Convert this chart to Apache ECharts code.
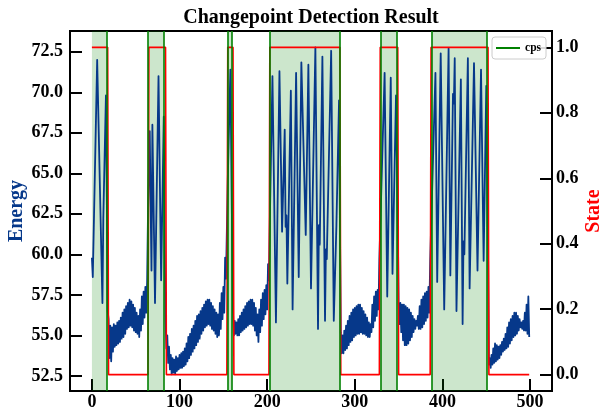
<!DOCTYPE html>
<html>
<head>
<meta charset="utf-8">
<script src="https://cdn.jsdelivr.net/npm/echarts@6/dist/echarts.min.js"></script>
<style>
  html, body { margin: 0; padding: 0; background: #fff; }
  #chart { width: 600px; height: 409px; }
</style>
</head>
<body>
<div id="chart"></div>
<script>
// changepoints (green lines) and shaded segments
const cpsX = [17, 64, 82, 155, 160, 203, 283, 330, 348, 388, 451];
const shadeRanges = [[0, 17], [64, 82], [155, 160], [203, 283], [330, 348], [388, 451]];

// state = 1 inside these index ranges, 0 elsewhere
const stateOn = [[0, 18], [65, 84], [155, 161], [203, 283], [329, 349], [387, 452]];
const lastIndex = 499;

// oscillating parts: [index, energy] at peaks / troughs
const act1 = [[0, 59.8], [1, 58.6], [6, 72.0], [12, 57.0], [13, 62.2], [16, 69.8], [17, 63.5], [18, 56.5]];
const act2 = [[64, 62.5], [66, 67.6], [67, 63.0], [68, 59.0], [69, 68.0], [72, 57.0], [76, 71.0], [79, 58.4], [82, 68.5], [83, 61.0]];
const act3 = [[153, 58.5], [155, 64.5], [158, 71.4], [160, 61.0]];
const act4 = [[203, 62.0], [206, 71.0], [210, 55.8], [214, 71.3], [217, 61.4], [220, 67.7], [221, 61.7], [222, 62.4],
  [223, 58.2], [227, 70.1], [229, 56.6], [233, 71.2], [236, 58.6], [239, 71.85], [244, 61.2], [247, 71.7],
  [250, 57.9], [255, 72.77], [258, 55.4], [259, 61.8], [260, 60.6], [263, 72.2], [266, 55.9], [267, 60.3],
  [268, 59.7], [273, 72.56], [276, 55.9], [279, 61.8], [282, 69.5], [283, 62.0]];
const act5 = [[334, 71.2], [337, 57.4], [341, 70.9], [343, 58.8], [347, 69.8], [349, 62.0]];
const act6 = [[388, 63.5], [392, 71.2], [394, 58.3], [398, 72.4], [402, 56.6], [407, 72.7], [409, 58.7], [412, 69.9],
  [413, 69.3], [414, 72.1], [416, 56.5], [421, 70.8], [423, 55.7], [424, 60.8], [425, 60.0], [429, 72.1],
  [431, 57.9], [436, 71.8], [440, 59.0], [444, 71.4], [447, 59.6], [450, 70.4], [452, 60.5]];

// calm parts: one value per index, starting at quietStarts[k]
const quietStarts = [19, 84, 161, 284, 350, 453];
const quiet1 = [56.0, 53.6, 55.6, 53.4, 55.5, 54.0, 55.7, 54.3, 55.6, 54.4, 55.8, 54.5, 55.9, 54.6, 56.1, 54.8,
  56.4, 54.9, 56.6, 55.1, 56.8, 55.4, 57.0, 55.5, 57.2, 55.6, 57.1, 55.5, 56.9, 55.3, 56.7, 55.2, 56.4, 55.1,
  56.2, 54.9, 56.6, 55.3, 57.4, 55.7, 57.7, 56.1, 58.0, 56.4, 58.3];
const quiet2 = [56.0, 54.2, 55.0, 53.3, 54.3, 52.9, 53.8, 52.6, 53.6, 52.7, 53.5, 52.6, 53.7, 52.8, 53.6, 52.9,
  53.8, 53.0, 53.9, 53.0, 54.0, 53.1, 54.2, 53.2, 54.5, 53.4, 54.9, 53.6, 55.1, 53.8, 55.4, 54.0, 55.6, 54.2,
  55.9, 54.4, 56.2, 54.6, 56.3, 54.8, 56.5, 55.1, 56.7, 55.3, 56.9, 55.5, 57.1, 55.6, 57.2, 55.7, 57.2, 55.6,
  57.0, 55.4, 56.8, 55.3, 56.6, 55.1, 56.4, 54.9, 56.3, 55.0, 57.0, 55.4, 57.6, 56.0, 58.0, 56.4, 59.8];
const quiet3 = [56.4, 55.0, 55.9, 55.1, 55.8, 55.0, 56.0, 55.0, 56.2, 55.2, 56.4, 55.3, 56.6, 55.4, 56.8, 55.5,
  57.0, 55.6, 57.1, 55.7, 57.2, 55.7, 57.2, 55.6, 57.0, 55.3, 56.7, 55.0, 56.3, 54.6, 56.6, 55.2, 57.2, 55.6,
  57.6, 56.0, 57.8, 56.3, 58.1, 56.6, 59.4, 58.4];
const quiet4 = [55.2, 53.9, 55.0, 53.9, 55.3, 54.1, 55.6, 54.2, 55.9, 54.4, 56.2, 54.6, 56.4, 54.7, 56.6, 54.9,
  56.7, 55.0, 56.8, 55.1, 56.9, 55.1, 56.9, 55.2, 56.7, 55.1, 56.5, 55.1, 56.3, 55.0, 56.1, 54.9, 55.8, 54.9,
  55.7, 55.2, 56.9, 55.5, 57.4, 55.9, 57.7, 56.2, 57.8, 56.6, 59.7];
const quiet5 = [57.0, 55.7, 57.0, 55.2, 56.9, 54.7, 56.9, 54.4, 56.8, 54.4, 56.7, 54.5, 56.6, 54.7, 56.4, 54.9,
  56.2, 55.2, 56.0, 55.4, 55.9, 55.6, 56.2, 55.4, 56.8, 55.4, 57.2, 55.5, 57.4, 55.7, 57.6, 55.9, 57.7, 56.1,
  58.0, 56.4, 59.6];
const quiet6 = [53.2, 53.6, 53.0, 53.8, 53.2, 54.2, 53.3, 54.5, 53.4, 54.4, 53.5, 54.3, 53.6, 54.4, 53.8, 54.6,
  54.0, 54.8, 54.1, 55.1, 54.2, 55.5, 54.3, 55.8, 54.5, 56.0, 54.7, 56.2, 54.9, 56.4, 55.0, 56.4, 55.1, 56.2,
  55.3, 56.0, 55.5, 55.8, 55.4, 55.9, 55.3, 56.4, 55.3, 56.9, 55.1, 57.4, 54.9];

const xTicks = [0, 100, 200, 300, 400, 500];
const energyTicks = [52.5, 55.0, 57.5, 60.0, 62.5, 65.0, 67.5, 70.0, 72.5];
const stateTicks = [0, 0.2, 0.4, 0.6, 0.8, 1.0];

// assemble series
const quietRuns = [quiet1, quiet2, quiet3, quiet4, quiet5, quiet6];
let energy = [].concat(act1, act2, act3, act4, act5, act6);
quietRuns.forEach((run, k) => {
    run.forEach((v, i) => energy.push([quietStarts[k] + i, v]));
});
energy.sort((a, b) => a[0] - b[0]);

const stateLine = [];
let prevEnd = -1;
stateOn.forEach(([a, b]) => {
    if (a > 0) {
        stateLine.push([prevEnd + 1, 0], [a - 1, 0]);
    }
    stateLine.push([a, 1], [b, 1]);
    prevEnd = b;
});
stateLine.push([prevEnd + 1, 0], [lastIndex, 0]);

const serif = 'Liberation Serif, DejaVu Serif, serif';
const energyColor = '#06388a';

const chart = echarts.init(document.getElementById('chart'), null, { renderer: 'canvas' });

const tickStyle = { color: '#000', width: 2 };
const labelFont = { fontFamily: serif, fontSize: 18, fontWeight: 'bold', color: '#000' };

const option = {
    animation: false,
    title: {
        text: 'Changepoint Detection Result',
        left: 306,
        textAlign: 'center',
        top: 3,
        textStyle: { fontFamily: serif, fontSize: 20, fontWeight: 'bold', color: '#000' }
    },
    legend: {
        data: [{ name: 'cps', icon: 'rect' }],
        right: 54,
        top: 37,
        itemWidth: 24,
        itemHeight: 2,
        itemGap: 4,
        padding: [5, 5, 5, 4],
        borderColor: '#cccccc',
        borderWidth: 1,
        borderRadius: 3,
        backgroundColor: 'rgba(255,255,255,0.85)',
        textStyle: { fontFamily: serif, fontSize: 11.5, fontWeight: 'bold', color: '#000' }
    },
    grid: {
        left: 70, right: 48, top: 31, bottom: 18,
        outerBoundsMode: 'none',
        containLabel: false,
        show: true, borderColor: '#000', borderWidth: 2, backgroundColor: 'transparent'
    },
    xAxis: {
        type: 'value',
        min: -25, max: 525,
        axisLine: { show: true, onZero: false, lineStyle: tickStyle },
        axisTick: { show: true, inside: true, length: 12, lineStyle: tickStyle, customValues: xTicks },
        axisLabel: Object.assign({ customValues: xTicks, margin: 2 }, labelFont),
        splitLine: { show: false }
    },
    yAxis: [
        {
            type: 'value',
            min: 51.57, max: 73.78,
            position: 'left',
            name: 'Energy',
            nameLocation: 'middle',
            nameRotate: 90,
            nameGap: 43,
            nameMoveOverlap: false,
            nameTextStyle: { fontFamily: serif, fontSize: 20, fontWeight: 'bold', color: energyColor },
            axisLine: { show: true, onZero: false, lineStyle: tickStyle },
            axisTick: { show: true, inside: true, length: 12, lineStyle: tickStyle, customValues: energyTicks },
            axisLabel: Object.assign({ customValues: energyTicks, margin: 7, formatter: v => v.toFixed(1) }, labelFont),
            splitLine: { show: false }
        },
        {
            type: 'value',
            min: -0.05, max: 1.05,
            position: 'right',
            name: 'State',
            nameLocation: 'middle',
            nameRotate: 90,
            nameGap: 32,
            nameMoveOverlap: false,
            nameTextStyle: { fontFamily: serif, fontSize: 20, fontWeight: 'bold', color: '#ff0000' },
            axisLine: { show: true, onZero: false, lineStyle: tickStyle },
            axisTick: { show: true, inside: true, length: 12, lineStyle: tickStyle, customValues: stateTicks },
            axisLabel: Object.assign({ customValues: stateTicks, margin: 4, formatter: v => v.toFixed(1) }, labelFont),
            splitLine: { show: false }
        }
    ],
    series: [
        {
            name: 'cps',
            type: 'line',
            data: [],
            color: 'green',
            lineStyle: { color: 'green', width: 1.6 },
            symbol: 'none',
            z: 1,
            markArea: {
                silent: true,
                itemStyle: { color: 'rgba(0,128,0,0.2)' },
                data: shadeRanges.map(([a, b]) => [{ xAxis: a }, { xAxis: b }])
            },
            markLine: {
                silent: true,
                symbol: ['none', 'none'],
                label: { show: false },
                lineStyle: { color: 'green', width: 1.6, type: 'solid' },
                data: cpsX.map(x => ({ xAxis: x }))
            }
        },
        {
            name: 'Energy',
            type: 'line',
            data: energy,
            showSymbol: false,
            symbol: 'none',
            lineStyle: { color: energyColor, width: 1.8, join: 'round' },
            z: 2
        },
        {
            name: 'State',
            type: 'line',
            yAxisIndex: 1,
            data: stateLine,
            showSymbol: false,
            symbol: 'none',
            lineStyle: { color: '#ff0000', width: 1.6 },
            z: 3
        }
    ]
};

chart.setOption(option);
</script>
</body>
</html>
